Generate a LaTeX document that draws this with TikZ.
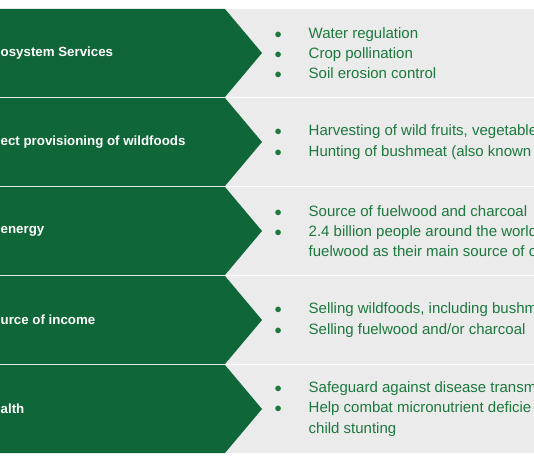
\documentclass[tikz,border=0pt]{standalone}
\usepackage{fontspec}
\setmainfont{Liberation Sans}
\usetikzlibrary{positioning}
\definecolor{chevgreen}{RGB}{15,102,56}
\definecolor{itemgreen}{RGB}{28,120,62}
\definecolor{bandgray}{RGB}{235,235,235}
\newcommand{\bul}{\makebox[34pt][l]{$\bullet$}}
\newcommand{\ind}{\hspace*{34pt}}

\begin{document}
\begin{tikzpicture}[
    x=1pt, y=-1pt,
    band/.style={fill=bandgray},
    chev/.style={fill=chevgreen},
    rowlabel/.style={
      anchor=west, inner sep=0pt, text=white,
      font=\fontsize{13.3}{16}\selectfont\bfseries
    },
    items/.style={
      anchor=west, inner sep=0pt, align=left, text=itemgreen,
      font=\fontsize{15}{20.3}\selectfont
    }
  ]
  \useasboundingbox (0,0) rectangle (534,462);
  \clip (0,0) rectangle (534,462);

  % grey bands
  \fill[band] (225,9)   rectangle (534,97);
  \fill[band] (225,98)  rectangle (534,186);
  \fill[band] (225,187) rectangle (534,275);
  \fill[band] (225,276) rectangle (534,364);
  \fill[band] (225,365) rectangle (534,453);

  % chevrons
  \fill[chev] (0,9)   -- (225,9)   -- (262,53)  -- (225,97)  -- (0,97)  -- cycle;
  \fill[chev] (0,98)  -- (225,98)  -- (262,142) -- (225,186) -- (0,186) -- cycle;
  \fill[chev] (0,187) -- (225,187) -- (262,231) -- (225,275) -- (0,275) -- cycle;
  \fill[chev] (0,276) -- (225,276) -- (262,320) -- (225,364) -- (0,364) -- cycle;
  \fill[chev] (0,365) -- (225,365) -- (262,409) -- (225,453) -- (0,453) -- cycle;

  \node[rowlabel] (eco)    at (0.5,53)  {osystem Services};
  \node[rowlabel] (wild)   at (0.5,142) {ect provisioning of wildfoods};
  \node[rowlabel] (energy) at (0.5,231) {energy};
  \node[rowlabel] (income) at (0.5,320) {urce of income};
  \node[rowlabel] (health) at (0.5,409) {alth};

  \node[items] (ecoitems) at (274.5,53)
    {\bul Water regulation\\ \bul Crop pollination\\ \bul Soil erosion control};
  \node[items] (wilditems) at (274.5,142)
    {\bul Harvesting of wild fruits, vegetables\\
     \bul Hunting of bushmeat (also known as};
  \node[items] (energyitems) at (274.5,231)
    {\bul Source of fuelwood and charcoal\\
     \bul 2.4 billion people around the world\\
     \ind fuelwood as their main source of c};
  \node[items] (incomeitems) at (274.5,320)
    {\bul Selling wildfoods, including bushm\\
     \bul Selling fuelwood and/or charcoal};
  \node[items] (healthitems) at (274.5,409)
    {\bul Safeguard against disease transm\\
     \bul Help combat micronutrient deficie\\
     \ind child stunting};
\end{tikzpicture}
\end{document}
